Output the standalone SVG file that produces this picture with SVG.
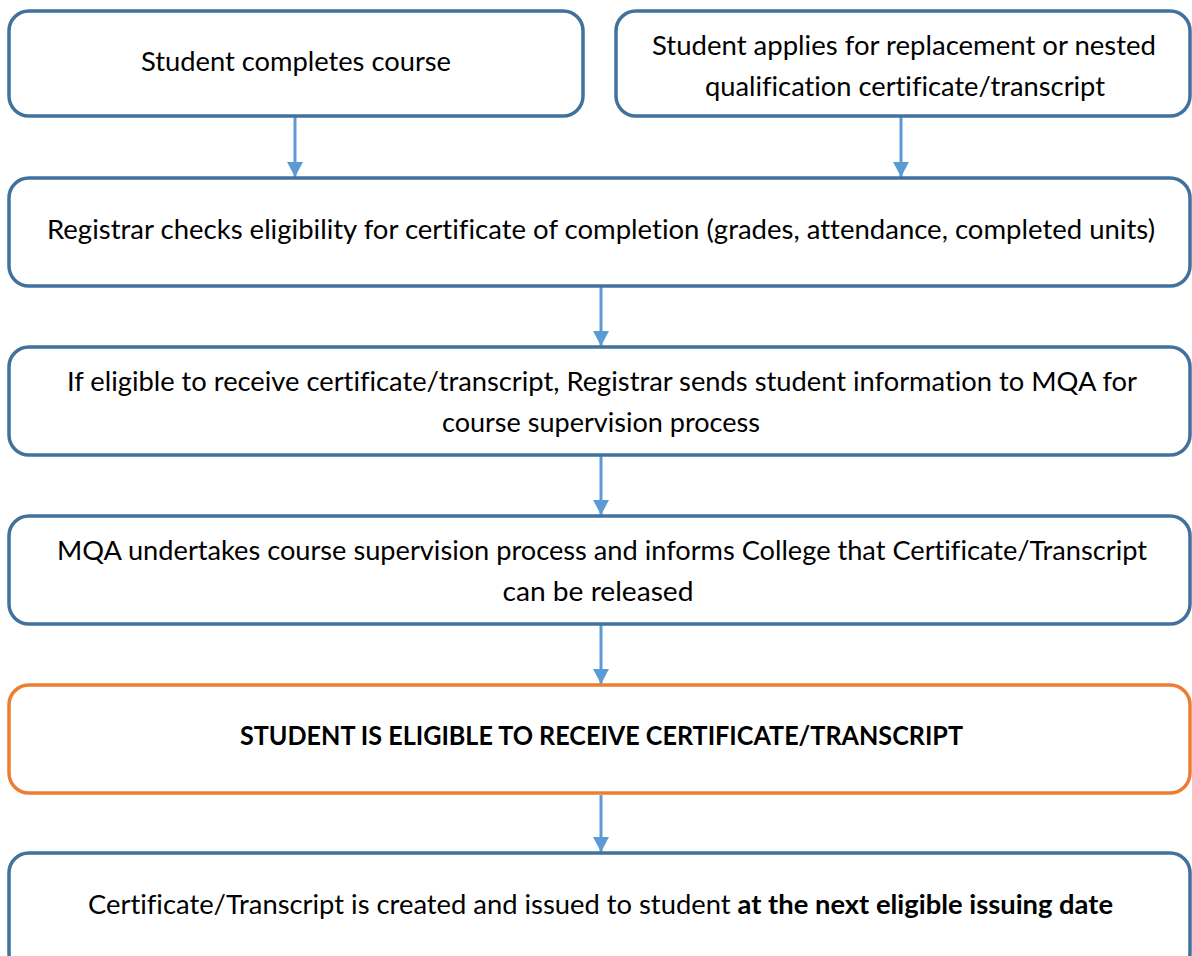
<svg xmlns="http://www.w3.org/2000/svg" width="1192" height="956" viewBox="0 0 1192 956">
  <defs>
    <!-- arrowhead drawn along +x so orient="auto" turns it with the line -->
    <marker id="arrow" viewBox="0 0 15 16" refX="15" refY="8" markerWidth="15" markerHeight="16" markerUnits="userSpaceOnUse" orient="auto">
      <path d="M0,0 L15,8 L0,16 Z" fill="#5b9bd5"/>
    </marker>
  </defs>
  <style>
    .box { fill: #ffffff; stroke: #41719c; stroke-width: 3.5; }
    .hl { fill: #ffffff; stroke: #ed7d31; stroke-width: 3.5; }
    .lbl { font-family: Lato, "Liberation Sans", sans-serif; font-size: 26.5px; fill: #000000; text-anchor: middle; font-variant-ligatures: none; font-feature-settings: "liga" 0, "dlig" 0; }
    .b { font-weight: bold; }
    .conn { stroke: #5b9bd5; stroke-width: 3; fill: none; }
  </style>
  <rect width="1192" height="956" fill="#ffffff"/>

  <g id="connectors">
    <line class="conn" x1="295" y1="117" x2="295" y2="177" marker-end="url(#arrow)"/>
    <line class="conn" x1="901" y1="117" x2="901" y2="177" marker-end="url(#arrow)"/>
    <line class="conn" x1="601" y1="287" x2="601" y2="346" marker-end="url(#arrow)"/>
    <line class="conn" x1="601" y1="456" x2="601" y2="515" marker-end="url(#arrow)"/>
    <line class="conn" x1="601" y1="625" x2="601" y2="684" marker-end="url(#arrow)"/>
    <line class="conn" x1="601" y1="795" x2="601" y2="852" marker-end="url(#arrow)"/>
  </g>

  <g id="n1">
    <rect class="box" x="9" y="11" width="574" height="105" rx="20"/>
    <text class="lbl" x="296" y="71" textLength="310" lengthAdjust="spacingAndGlyphs">Student completes course</text>
  </g>

  <g id="n2">
    <rect class="box" x="616" y="11" width="574" height="105" rx="20"/>
    <text class="lbl" x="904" y="55" textLength="504" lengthAdjust="spacingAndGlyphs">Student applies for replacement or nested</text>
    <text class="lbl" x="905" y="96" textLength="400" lengthAdjust="spacingAndGlyphs">qualification certificate/transcript</text>
  </g>

  <g id="n3">
    <rect class="box" x="9" y="178" width="1181" height="108" rx="20"/>
    <text class="lbl" x="601" y="239" textLength="1108" lengthAdjust="spacingAndGlyphs">Registrar checks eligibility for certificate of completion (grades, attendance, completed units)</text>
  </g>

  <g id="n4">
    <rect class="box" x="9" y="347" width="1181" height="108" rx="20"/>
    <text class="lbl" x="602" y="391" textLength="1070" lengthAdjust="spacingAndGlyphs">If eligible to receive certificate/transcript, Registrar sends student information to MQA for</text>
    <text class="lbl" x="601" y="432" textLength="318" lengthAdjust="spacingAndGlyphs">course supervision process</text>
  </g>

  <g id="n5">
    <rect class="box" x="9" y="516" width="1181" height="108" rx="20"/>
    <text class="lbl" x="602" y="560" textLength="1090" lengthAdjust="spacingAndGlyphs">MQA undertakes course supervision process and informs College that Certificate/Transcript</text>
    <text class="lbl" x="598" y="601" textLength="191" lengthAdjust="spacingAndGlyphs">can be released</text>
  </g>

  <g id="n6">
    <rect class="hl" x="9" y="685" width="1181" height="108" rx="20"/>
    <text class="lbl b" x="601.5" y="745" textLength="723" lengthAdjust="spacingAndGlyphs">STUDENT IS ELIGIBLE TO RECEIVE CERTIFICATE/TRANSCRIPT</text>
  </g>

  <g id="n7">
    <rect class="box" x="9" y="853" width="1181" height="120" rx="20"/>
    <text class="lbl" x="600.5" y="914" textLength="1025" lengthAdjust="spacingAndGlyphs">Certificate/Transcript is created and issued to student <tspan class="b">at the next eligible issuing date</tspan></text>
  </g>
</svg>
